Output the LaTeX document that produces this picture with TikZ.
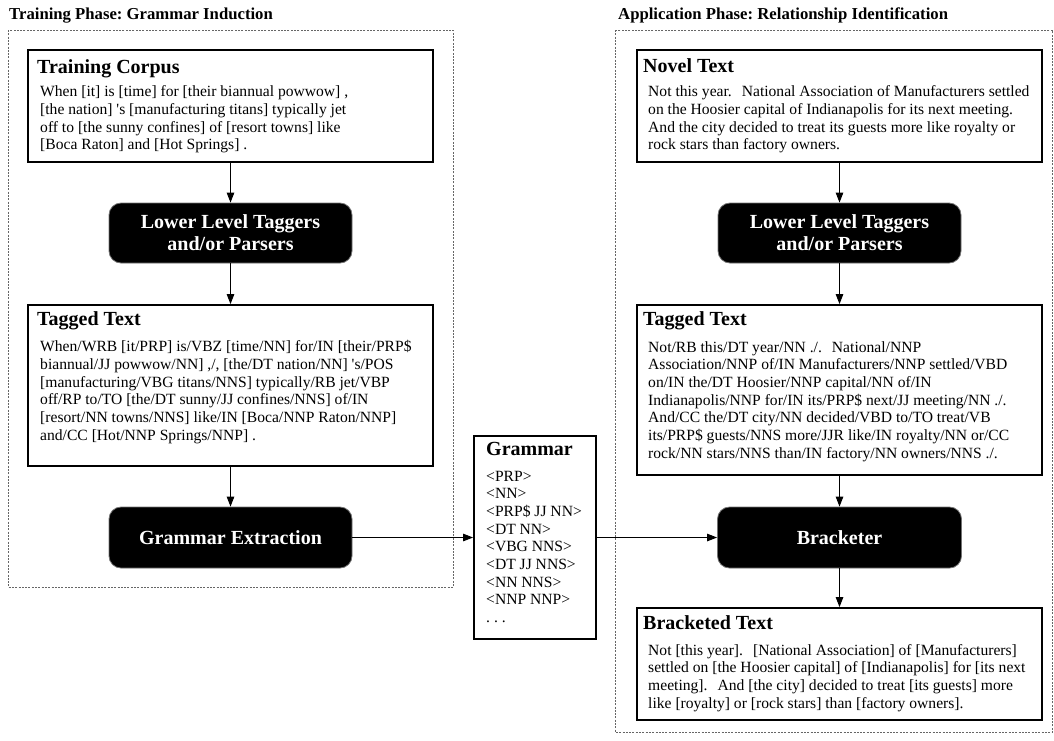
\documentclass[tikz,border=0pt]{standalone}
\usepackage{fontspec}
\setmainfont{Liberation Serif}
\usetikzlibrary{arrows.meta}
\newcommand\ml[1]{\vtop{\halign{##\hfil\cr#1\crcr}}}
\newcommand\sgap{\hspace{10pt}}
\frenchspacing
\begin{document}
\begin{tikzpicture}[x=1pt,y=-1pt,
 panel/.style={draw=black!60, line width=0.7pt, dash pattern=on 2pt off 1.3pt},
 textbox/.style={draw, line width=1.8pt, rectangle, inner sep=0pt},
 blackbox/.style={draw=black!55, line width=0.8pt, fill=black, rounded corners=12pt, text=white, font=\fontsize{20}{22}\selectfont\bfseries, align=center, inner sep=0pt},
 heading/.style={font=\fontsize{16.7}{19}\selectfont\bfseries, anchor=base west, inner sep=0pt},
 boxtitle/.style={font=\fontsize{20}{22}\selectfont\bfseries, anchor=base west, inner sep=0pt},
 body/.style={font=\fontsize{15.6}{17.7}\selectfont, anchor=base west, inner sep=0pt},
 arr/.style={line width=1pt, -{Triangle[length=10pt,width=7.5pt]}}]
\useasboundingbox (0,0) rectangle (1054,740);

% panels
\draw[panel] (8,30) rectangle (453,587);
\draw[panel] (615,30) rectangle (1052.5,732);
\node[heading] (h1) at (9,19) {Training Phase: Grammar Induction};
\node[heading] (h2) at (618,19) {Application Phase: Relationship Identification};

% left column boxes
\node[textbox, minimum width=405pt, minimum height=112pt] (tc) at (230.5,106) {};
\node[blackbox, minimum width=243pt, minimum height=60pt] (llt1) at (230.5,233) {Lower Level Taggers\\and/or Parsers};
\node[textbox, minimum width=405pt, minimum height=161pt] (tt1) at (230.5,385.5) {};
\node[blackbox, minimum width=243pt, minimum height=61pt] (ge) at (230.5,537.5) {Grammar Extraction};

% grammar
\node[textbox, minimum width=122pt, minimum height=203pt] (gram) at (535,537.5) {};

% right column boxes
\node[textbox, minimum width=405pt, minimum height=112pt] (nt) at (839.5,106) {};
\node[blackbox, minimum width=243pt, minimum height=60pt] (llt2) at (839.5,233) {Lower Level Taggers\\and/or Parsers};
\node[textbox, minimum width=405pt, minimum height=170pt] (tt2) at (839.5,390) {};
\node[blackbox, minimum width=244pt, minimum height=61pt] (br) at (839.5,537.5) {Bracketer};
\node[textbox, minimum width=405pt, minimum height=112pt] (bt) at (839.5,664) {};

% texts left
\node[boxtitle] (tcT) at (37,73) {Training Corpus};
\node[body] (tcB) at (40,96.7) {\ml{When [it] is [time] for [their biannual powwow] ,\cr
[the nation] \textquotesingle s [manufacturing titans] typically jet\cr
off to [the sunny confines] of [resort towns] like\cr
[Boca Raton] and [Hot Springs] .}};

\node[boxtitle] (tt1T) at (37,325) {Tagged Text};
\node[body] (tt1B) at (40,351.7) {\ml{When/WRB [it/PRP] is/VBZ [time/NN] for/IN [their/PRP\$\cr
biannual/JJ powwow/NN] ,/, [the/DT nation/NN] \textquotesingle s/POS\cr
[manufacturing/VBG titans/NNS] typically/RB jet/VBP\cr
off/RP to/TO [the/DT sunny/JJ confines/NNS] of/IN\cr
[resort/NN towns/NNS] like/IN [Boca/NNP Raton/NNP]\cr
and/CC [Hot/NNP Springs/NNP] .}};

% grammar text
\node[boxtitle] (gramT) at (486,455) {Grammar};
\node[body] (gramB) at (486,481) {\ml{<PRP>\cr
<NN>\cr
<PRP\$ JJ NN>\cr
<DT NN>\cr
<VBG NNS>\cr
<DT JJ NNS>\cr
<NN NNS>\cr
<NNP NNP>\cr
. . .}};

% texts right
\node[boxtitle] (ntT) at (643,72) {Novel Text};
\node[body] (ntB) at (648,96.7) {\ml{Not this year.\sgap National Association of Manufacturers settled\cr
on the Hoosier capital of Indianapolis for its next meeting.\cr
And the city decided to treat its guests more like royalty or\cr
rock stars than factory owners.}};

\node[boxtitle] (tt2T) at (643,325) {Tagged Text};
\node[body] (tt2B) at (648,352) {\ml{Not/RB this/DT year/NN ./.\sgap National/NNP\cr
Association/NNP of/IN Manufacturers/NNP settled/VBD\cr
on/IN the/DT Hoosier/NNP capital/NN of/IN\cr
Indianapolis/NNP for/IN its/PRP\$ next/JJ meeting/NN ./.\cr
And/CC the/DT city/NN decided/VBD to/TO treat/VB\cr
its/PRP\$ guests/NNS more/JJR like/IN royalty/NN or/CC\cr
rock/NN stars/NNS than/IN factory/NN owners/NNS ./.}};

\node[boxtitle] (btT) at (643,629) {Bracketed Text};
\node[body] (btB) at (648,655) {\ml{Not [this year].\sgap [National Association] of [Manufacturers]\cr
settled on [the Hoosier capital] of [Indianapolis] for [its next\cr
meeting].\sgap And [the city] decided to treat [its guests] more\cr
like [royalty] or [rock stars] than [factory owners].}};

% connectors
\draw[arr] (tc) -- (llt1);
\draw[arr] (llt1) -- (tt1);
\draw[arr] (tt1) -- (ge);
\draw[arr] (ge) -- (gram);
\draw[arr] (gram) -- (br);
\draw[arr] (nt) -- (llt2);
\draw[arr] (llt2) -- (tt2);
\draw[arr] (tt2) -- (br);
\draw[arr] (br) -- (bt);
\end{tikzpicture}
\end{document}
